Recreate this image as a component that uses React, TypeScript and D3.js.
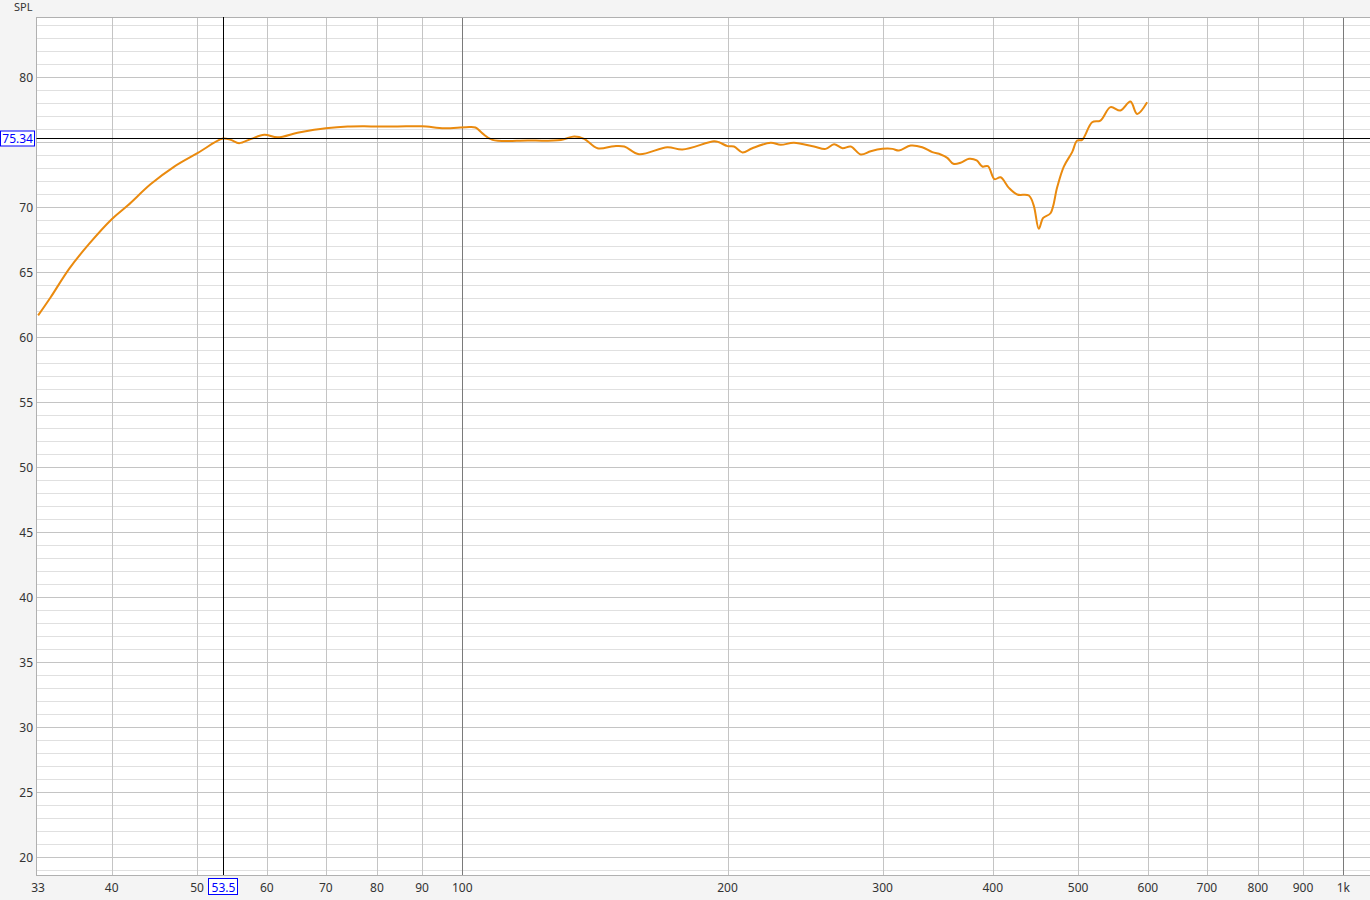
import React from "react";
import { scaleLog, scaleLinear, line, curveCatmullRom, range } from "d3";

const freqs = [
  33, 34.1, 35.8, 37.7, 40, 41.7, 44.3, 47.1, 50.1, 53.5, 54.6, 55.8, 57.6, 59.6, 61.7,
  65, 67.9, 70, 74.1, 77.4, 80, 84.4, 90, 95.4, 101, 103.5, 105.4, 108.2, 118.6, 129.4,
  134, 137.5, 142.4, 148.7, 152.7, 158.7, 170.9, 177.8, 193.1, 195.6, 200, 203.4, 208,
  213.4, 223.9, 229.8, 237.9, 250.7, 258.5, 264.2, 270.1, 276, 283.3, 290.8, 299.8,
  307.7, 313.1, 322.8, 332.7, 341.6, 349.1, 355.2, 360.9, 367.8, 376, 383.6, 389.3, 395,
  401.9, 408.3, 417.3, 426.5, 439.6, 445.3, 451.2, 456.4, 465.2, 473.4, 481.7, 492.3,
  498.8, 505.3, 518.7, 530.1, 544.2, 558.5, 573.3, 583.4, 598.9,
];
const spl = [
  61.7, 63.1, 65.3, 67.2, 69.1, 70.15, 71.8, 73.15, 74.2, 75.3, 75.2, 74.95, 75.28, 75.6, 75.4,
  75.75, 75.98, 76.1, 76.23, 76.25, 76.23, 76.23, 76.25, 76.1, 76.18, 76.15, 75.7, 75.2, 75.15, 75.2,
  75.46, 75.28, 74.56, 74.72, 74.69, 74.1, 74.64, 74.46, 75.1, 75.02, 74.72, 74.69, 74.23,
  74.56, 74.98, 74.82, 74.98, 74.69, 74.51, 74.87, 74.56, 74.69, 74.08, 74.33, 74.51,
  74.51, 74.38, 74.77, 74.64, 74.26, 74.08, 73.82, 73.36, 73.44, 73.75, 73.62, 73.15, 73.18,
  72.18, 72.33, 71.51, 71.0, 70.92, 70.15, 68.36, 69.2, 69.56, 71.56, 73.15, 74.26,
  75.15, 75.2, 76.56, 76.69, 77.72, 77.46, 78.15, 77.2, 78.1,
];

const xTicks = [33, 40, 50, 60, 70, 80, 90, 100, 200, 300, 400, 500, 600, 700, 800, 900, 1000];
const xTickLabels = ["33", "40", "50", "60", "70", "80", "90", "100", "200", "300", "400", "500", "600", "700", "800", "900", "1k"];
const yTicks = [20, 25, 30, 35, 40, 45, 50, 55, 60, 65, 70, 75, 80];
const cursorFreq = 53.5;
const cursorSpl = 75.34;

const W = 1370;
const H = 900;
const left = 36.5;
const top = 17;
const bottom = 875;
const right = 1370;

export default function App() {
  const x = scaleLog().domain([32.86, 1072.3]).range([left, right]);
  const y = scaleLinear().domain([20, 80]).range([857.5, 77.5]);
  const yMin = y.invert(bottom);
  const yMax = y.invert(top);

  const pts = freqs.map((f, i) => [f, spl[i]] as [number, number]);
  const path = line<[number, number]>()
    .x((d) => x(d[0]))
    .y((d) => y(d[1]))
    .curve(curveCatmullRom.alpha(0.5))(pts);

  const minorY = range(Math.ceil(yMin), yMax, 1).filter((v) => v % 5 !== 0);
  const vLines = xTicks.filter((t) => t !== 33);
  const font = "'Noto Sans', 'Open Sans', sans-serif";
  const cx = x(cursorFreq);
  const cy = y(cursorSpl);
  // the cursor readout box hides the tick label it sits on
  const yLabels = yTicks.filter((v) => Math.abs(y(v) - cy) > 9);

  return (
    <svg width={W} height={H} style={{ position: "absolute", left: 0, top: 0 }} fontFamily={font}>
      <rect x={0} y={0} width={W} height={H} fill="#f4f4f4" />
      <rect x={left} y={top} width={right - left} height={bottom - top} fill="#ffffff" />

      {/* 1 dB grid */}
      {minorY.map((v) => (
        <line key={`m${v}`} x1={left} x2={right} y1={y(v)} y2={y(v)} stroke="#e0e0e0" />
      ))}
      {/* 5 dB grid */}
      {yTicks.map((v) => (
        <line key={`M${v}`} x1={left} x2={right} y1={y(v)} y2={y(v)} stroke="#c4c4c4" />
      ))}
      {/* frequency grid */}
      {vLines.map((f) => (
        <line
          key={`v${f}`}
          x1={Math.round(x(f)) + 0.5}
          x2={Math.round(x(f)) + 0.5}
          y1={top}
          y2={bottom}
          stroke={f === 100 || f === 1000 ? "#7a7a7a" : "#c4c4c4"}
        />
      ))}
      <rect x={left} y={top + 0.5} width={right - left + 2} height={bottom - top} fill="none" stroke="#b0b0b0" />

      <path d={path ?? ""} fill="none" stroke="#ea8a0e" strokeWidth={2} strokeLinejoin="round" />

      {/* cursor */}
      <line x1={Math.round(cx) + 0.5} x2={Math.round(cx) + 0.5} y1={top} y2={bottom} stroke="#000" />
      <line x1={left} x2={right} y1={Math.round(cy) + 0.5} y2={Math.round(cy) + 0.5} stroke="#000" />

      {yLabels.map((v) => (
        <text key={`yl${v}`} x={33} y={y(v)} dy="0.35em" textAnchor="end" fontSize={12} fill="#333">
          {v}
        </text>
      ))}
      {xTicks.map((f, i) => (
        <text key={`xl${f}`} x={x(f)} y={892} textAnchor="middle" fontSize={12} fill="#333">
          {xTickLabels[i]}
        </text>
      ))}
      <text x={14} y={11} fontSize={11} fill="#333">SPL</text>

      <rect x={0.5} y={Math.round(cy) - 7} width={34} height={15} fill="#fff" stroke="#0000ff" />
      <text x={33} y={Math.round(cy) + 0.5} dy="0.35em" textAnchor="end" fontSize={12} fill="#0000ff">
        {cursorSpl.toFixed(2)}
      </text>
      <rect x={Math.round(cx) - 14.5} y={878.5} width={29} height={16} fill="#fff" stroke="#0000ff" />
      <text x={Math.round(cx) + 0.5} y={892} textAnchor="middle" fontSize={12} fill="#0000ff">
        {cursorFreq}
      </text>
    </svg>
  );
}
